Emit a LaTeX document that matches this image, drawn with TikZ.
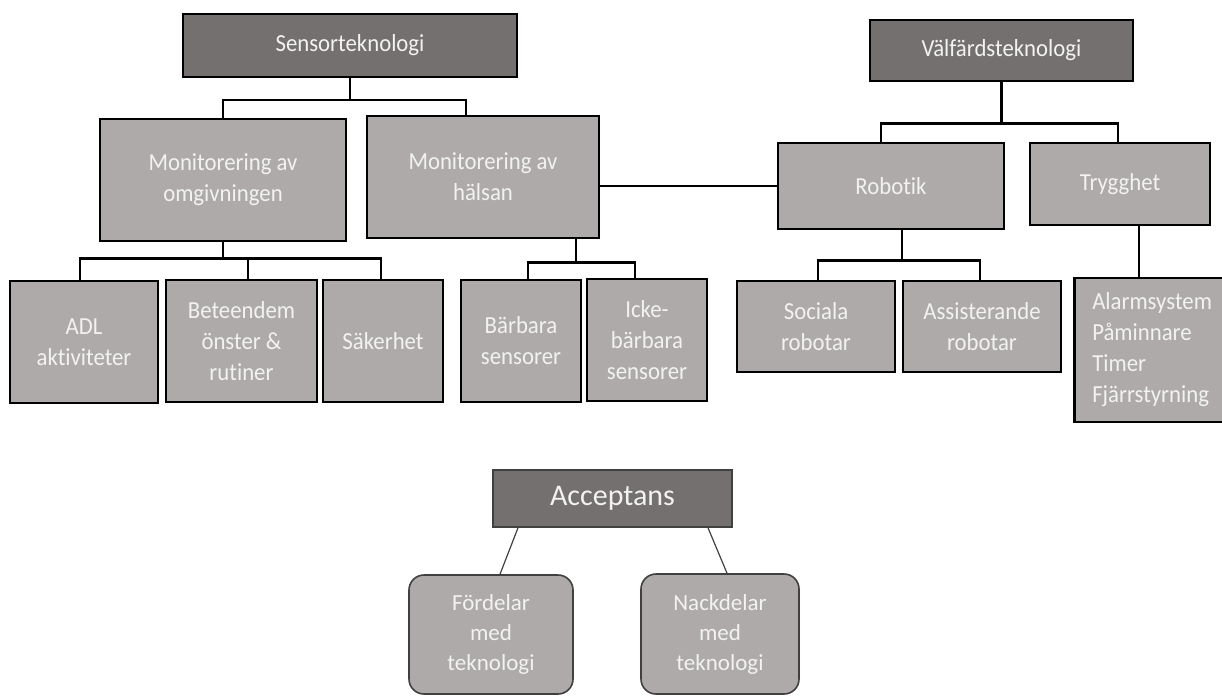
\documentclass[tikz,border=0pt]{standalone}
\usepackage{fontspec}
\setmainfont{Carlito}[Ligatures=NoCommon]
\newfontfamily\condfont{Carlito}[FakeStretch=0.93, Ligatures=NoCommon]
\definecolor{darkfill}{HTML}{757070}
\definecolor{lightfill}{HTML}{AEAAAA}
\definecolor{txt}{HTML}{F2F2F2}
\definecolor{accline}{HTML}{404040}
\tikzset{
  topbox/.style={draw=black, line width=2.5pt, fill=darkfill, text=txt, align=center, inner sep=0pt,
    font=\condfont\fontsize{24.5}{31}\selectfont},
  subbox/.style={draw=black, line width=2.5pt, fill=lightfill, text=txt, align=center, inner sep=0pt,
    font=\condfont\fontsize{24.5}{31}\selectfont},
  conn/.style={draw=black, line width=2.5pt},
  accbox/.style={draw=accline, line width=1.6pt, fill=darkfill, text=txt, align=center, inner sep=0pt,
    font=\fontsize{30}{36}\selectfont},
  prosbox/.style={draw=accline, line width=1.6pt, fill=lightfill, text=txt, align=center, inner sep=0pt,
    rounded corners=15pt, font=\fontsize{23}{30}\selectfont},
  accconn/.style={draw=accline, line width=1.2pt},
}
\begin{document}
\begin{tikzpicture}[x=1pt,y=-1pt]
\useasboundingbox (0,0) rectangle (1222,698);
% top level
\node[topbox, minimum width=334, minimum height=63] (sens) at (350,45.5) {Sensorteknologi};
\node[topbox, minimum width=263, minimum height=61] (valf) at (1001.5,50.5) {Välfärdsteknologi};
% second level
\node[subbox, minimum width=246, minimum height=122] (omg) at (223,180) {Monitorering av\\omgivningen};
\node[subbox, minimum width=232, minimum height=122] (hals) at (483,177) {Monitorering av\\hälsan};
\node[subbox, minimum width=226, minimum height=86] (rob) at (891,186) {Robotik};
\node[subbox, minimum width=180, minimum height=82] (tryg) at (1120,184) {Trygghet};
% third level
\node[subbox, minimum width=148, minimum height=122] (adl) at (84,342) {ADL\\aktiviteter};
\node[subbox, minimum width=151, minimum height=122] (bet) at (241.5,341) {Beteendem\\önster \&\\rutiner};
\node[subbox, minimum width=120, minimum height=122] (sak) at (383,341) {Säkerhet};
\node[subbox, minimum width=120, minimum height=122] (bar) at (521,341) {Bärbara\\sensorer};
\node[subbox, minimum width=120, minimum height=122] (icke) at (647,340) {Icke-\\bärbara\\sensorer};
\node[subbox, minimum width=158, minimum height=91] (soc) at (816,326.5) {Sociala\\robotar};
\node[subbox, minimum width=158, minimum height=91] (ass) at (982,326.5) {Assisterande\\robotar};
\node[subbox, anchor=west, inner xsep=18pt, text width=150pt, align=left, minimum height=144] (alarm) at (1073,350)
  {Alarmsystem\\Påminnare\\Timer\\Fjärrstyrning};
% connectors
\draw[conn] (sens.south) -- ++(0,22) -| (omg.north);
\draw[conn] (sens.south) ++(0,22) -| ([xshift=-17pt]hals.north);
\draw[conn] (valf.south) -- ++(0,41) -| ([xshift=-10pt]rob.north);
\draw[conn] (valf.south) ++(0,41) -| ([xshift=-2pt]tryg.north);
\draw[conn] (rob.west) -- (rob.west -| hals.east);
\draw[conn] (omg.south) -- ++(0,16) -| ([xshift=-4pt]adl.north);
\draw[conn] (omg.south) ++(0,16) -| ([xshift=6.5pt]bet.north);
\draw[conn] (omg.south) ++(0,16) -| ([xshift=-2pt]sak.north);
\draw[conn] ([xshift=93pt]hals.south) -- ++(0,23) -| ([xshift=7pt]bar.north);
\draw[conn] ([xshift=93pt]hals.south) ++(0,23) -| ([xshift=-12pt]icke.north);
\draw[conn] ([xshift=11pt]rob.south) -- ++(0,30) -| ([xshift=2pt]soc.north);
\draw[conn] ([xshift=11pt]rob.south) ++(0,30) -| ([xshift=-2pt]ass.north);
\draw[conn] ([xshift=19pt]tryg.south) -- ([xshift=19pt]tryg.south |- alarm.north);
% acceptans
\node[accbox, minimum width=239, minimum height=57] (acc) at (612.5,498.5) {Acceptans};
\node[prosbox, minimum width=164, minimum height=119] (ford) at (491,634.5) {Fördelar\\med\\teknologi};
\node[prosbox, minimum width=158, minimum height=120] (nack) at (720,634) {Nackdelar\\med\\teknologi};
\draw[accconn] ([xshift=-94.5pt]acc.south) -- ([xshift=9pt]ford.north);
\draw[accconn] ([xshift=95.5pt]acc.south) -- ([xshift=7pt]nack.north);
\end{tikzpicture}
\end{document}
